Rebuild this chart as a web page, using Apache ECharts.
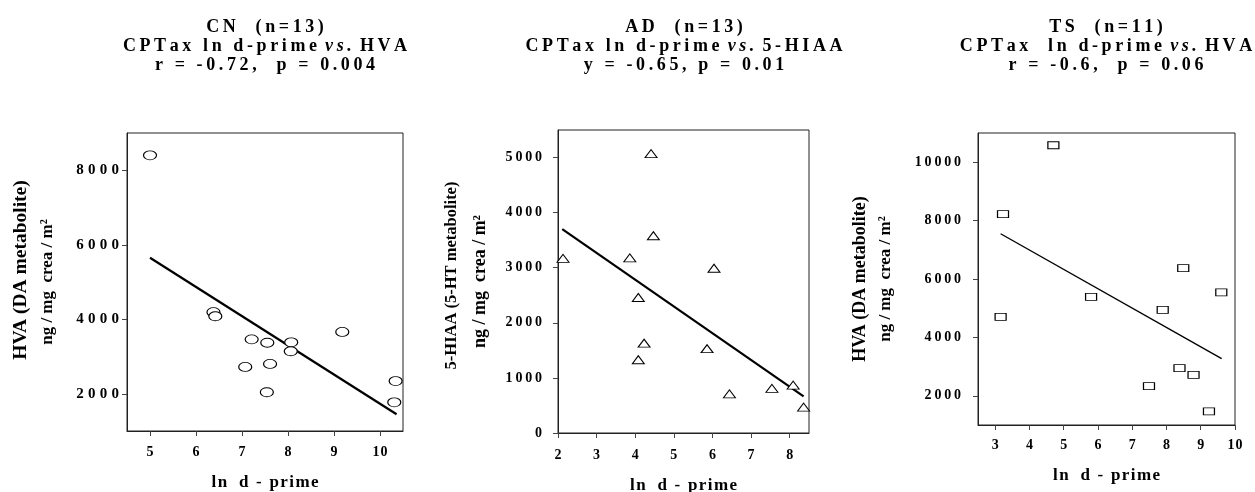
<!DOCTYPE html>
<html>
<head>
<meta charset="utf-8">
<script src="https://cdn.jsdelivr.net/npm/echarts@6/dist/echarts.min.js"></script>
<style>
  html, body { margin: 0; padding: 0; background: #fff; }
  #chart { width: 1255px; height: 492px; }
</style>
</head>
<body>
<div id="chart"></div>
<script>
// ---- Data ----
// Panel 1: CN (n=13), HVA vs ln d-prime
const cnX = [5.0, 6.38, 6.42, 7.21, 7.55, 7.07, 7.61, 7.54, 8.07, 8.06, 9.18, 10.34, 10.31];
const cnY = [8400, 4190, 4080, 3460, 3370, 2720, 2800, 2040, 3380, 3140, 3660, 2340, 1770];
const cnFitX = [5.0, 10.36];
const cnFitY = [5650, 1450];

// Panel 2: AD (n=13), 5-HIAA vs ln d-prime
const adX = [2.13, 4.41, 4.47, 3.86, 6.04, 4.08, 4.23, 4.08, 5.86, 6.44, 7.54, 8.09, 8.36];
const adY = [3170, 5070, 3580, 3180, 2990, 2460, 1630, 1330, 1530, 710, 810, 870, 470];
const adFitX = [2.11, 8.36];
const adFitY = [3700, 665];

// Panel 3: TS (n=11), HVA vs ln d-prime
const tsX = [4.70, 3.23, 3.16, 5.80, 7.89, 8.49, 9.60, 7.49, 8.38, 8.79, 9.24];
const tsY = [10580, 8220, 4700, 5390, 4940, 6370, 5540, 2330, 2950, 2720, 1470];
const tsFitX = [3.16, 9.61];
const tsFitY = [7550, 3270];

// Tick labels
const cnXTicks = [5, 6, 7, 8, 9, 10];
const cnYTicks = [2000, 4000, 6000, 8000];
const adXTicks = [2, 3, 4, 5, 6, 7, 8];
const adYTicks = [0, 1000, 2000, 3000, 4000, 5000];
const tsXTicks = [3, 4, 5, 6, 7, 8, 9, 10];
const tsYTicks = [2000, 4000, 6000, 8000, 10000];

// Text
const titles = [
  ['CN  (n=13)', ['CPTax ln d-prime ', 'vs.', ' HVA'], 'r = -0.72,  p = 0.004'],
  ['AD  (n=13)', ['CPTax ln d-prime ', 'vs.', ' 5-HIAA'], 'y = -0.65, p = 0.01'],
  ['TS  (n=11)', ['CPTax  ln d-prime ', 'vs.', ' HVA'], 'r = -0.6,  p = 0.06']
];
const yNameLines = [
  ['HVA (DA metabolite)', 'ng / mg  crea / m²'],
  ['5-HIAA (5-HT metabolite)', 'ng / mg  crea / m²'],
  ['HVA (DA metabolite)', 'ng / mg  crea / m²']
];
const xName = 'l\u200An  \u2009d \u2009-\u2009 p\u200Ar\u200Ai\u200Am\u200Ae';

// ---- Helpers ----
const FF = '"Liberation Serif", "Times New Roman", serif';
const TH = '\u2009';
const HA = '\u200A';
function spaced(s, sep) { return Array.from(s).join(sep === undefined ? TH : sep); }
function pairs(xs, ys) { return xs.map((x, i) => [x, ys[i]]); }

const grids = [
  { left: 127, top: 133, width: 276, height: 298 },
  { left: 558, top: 130, width: 251, height: 303 },
  { left: 978, top: 133, width: 257, height: 292 }
];
const xRanges = [[4.5, 10.5], [2, 8.5], [2.5, 10]];
const yRanges = [[1000, 9000], [0, 5500], [1000, 11000]];
const xTickSets = [cnXTicks, adXTicks, tsXTicks];
const yTickSets = [cnYTicks, adYTicks, tsYTicks];
const yNameGaps = [66, 63, 80];
const yNameLH = [27, 29, 25];
const yNameSizes = [[19.5, 17], [16.5, 18], [18, 17]];
const yNameShift = [24, 12, 0];
const xNameGaps = [43.5, 44.5, 42.5];
const xLabelMargins = [14, 15, 13];
const yLabelMargins = [8, 16, 17];
const yLabelFont = [15, 14, 14];
const yLabelSep = [TH + HA, TH, TH];

const lineCol = '#222';

const xAxes = grids.map((g, i) => ({
  type: 'value', gridIndex: i, min: xRanges[i][0], max: xRanges[i][1],
  splitLine: { show: false },
  axisLine: { show: true, lineStyle: { color: lineCol, width: 1 } },
  axisTick: { show: true, length: 5, lineStyle: { color: '#444' }, customValues: xTickSets[i] },
  axisLabel: {
    customValues: xTickSets[i], margin: xLabelMargins[i],
    color: '#000', fontFamily: FF, fontWeight: 'bold', fontSize: 14,
    formatter: v => spaced(String(v), HA)
  },
  name: xName, nameLocation: 'middle', nameGap: xNameGaps[i],
  nameTextStyle: { color: '#000', fontFamily: FF, fontWeight: 'bold', fontSize: 17, lineHeight: 17 }
}));

const yAxes = grids.map((g, i) => ({
  type: 'value', gridIndex: i, min: yRanges[i][0], max: yRanges[i][1],
  splitLine: { show: false },
  axisLine: { show: true, lineStyle: { color: lineCol, width: 1 } },
  axisTick: { show: true, length: 5, lineStyle: { color: '#444' }, customValues: yTickSets[i] },
  axisLabel: {
    customValues: yTickSets[i], margin: yLabelMargins[i],
    color: '#000', fontFamily: FF, fontWeight: 'bold', fontSize: yLabelFont[i],
    formatter: v => spaced(String(v), yLabelSep[i])
  },
  name: '{a|' + yNameLines[i][0] + '}\n{b|' + yNameLines[i][1] + '}',
  nameLocation: 'middle', nameRotate: 90, nameGap: yNameGaps[i],
  nameTextStyle: {
    color: '#000', fontFamily: FF, fontWeight: 'bold', fontSize: 15, lineHeight: yNameLH[i], align: 'center',
    rich: {
      a: { color: '#000', fontFamily: FF, fontWeight: 'bold', fontSize: yNameSizes[i][0], lineHeight: yNameLH[i],
           padding: [0, 0, 0, yNameShift[i]] },
      b: { color: '#000', fontFamily: FF, fontWeight: 'bold', fontSize: yNameSizes[i][1], lineHeight: yNameLH[i] }
    }
  }
}));

const symbols = [['circle', [13, 9]], ['triangle', [12, 8]], ['rect', [11, 7]]];
const scatterData = [pairs(cnX, cnY), pairs(adX, adY), pairs(tsX, tsY)];
const fitData = [pairs(cnFitX, cnFitY), pairs(adFitX, adFitY), pairs(tsFitX, tsFitY)];
const fitWidths = [2.2, 2.2, 1.4];

const series = [];
for (let i = 0; i < 3; i++) {
  series.push({
    type: 'line', xAxisIndex: i, yAxisIndex: i, data: fitData[i],
    symbol: 'none', silent: true, z: 2,
    lineStyle: { color: '#000', width: fitWidths[i] }
  });
  series.push({
    type: 'scatter', xAxisIndex: i, yAxisIndex: i, data: scatterData[i],
    symbol: symbols[i][0], symbolSize: symbols[i][1], z: 3,
    itemStyle: { color: '#fff', borderColor: '#000', borderWidth: 1, opacity: 1 }
  });
}

const titleCenters = [265, 684, 1106];
const TF = 18;
const richI = { i: { fontStyle: 'italic', fontWeight: 'bold', fontSize: TF, fontFamily: FF, lineHeight: 19 } };
const graphics = titles.map((t, i) => ({
  type: 'text', x: titleCenters[i], y: 18,
  style: {
    text: spaced(t[0]) + '\n' +
          spaced(t[1][0]) + '{i|' + spaced(t[1][1]) + '}' + spaced(t[1][2]) + '\n' +
          spaced(t[2]),
    rich: richI,
    fill: '#000', fontFamily: FF, fontWeight: 'bold', fontSize: TF,
    lineHeight: 19, align: 'center', verticalAlign: 'top'
  }
}));

const chart = echarts.init(document.getElementById('chart'), null, { renderer: 'canvas' });
chart.setOption({
  backgroundColor: '#fff',
  animation: false,
  grid: grids.map(g => Object.assign({
    show: true, borderColor: lineCol, borderWidth: 1, backgroundColor: 'transparent',
    containLabel: false, outerBoundsMode: 'none'
  }, g)),
  xAxis: xAxes,
  yAxis: yAxes,
  series: series,
  graphic: graphics
});
</script>
</body>
</html>
